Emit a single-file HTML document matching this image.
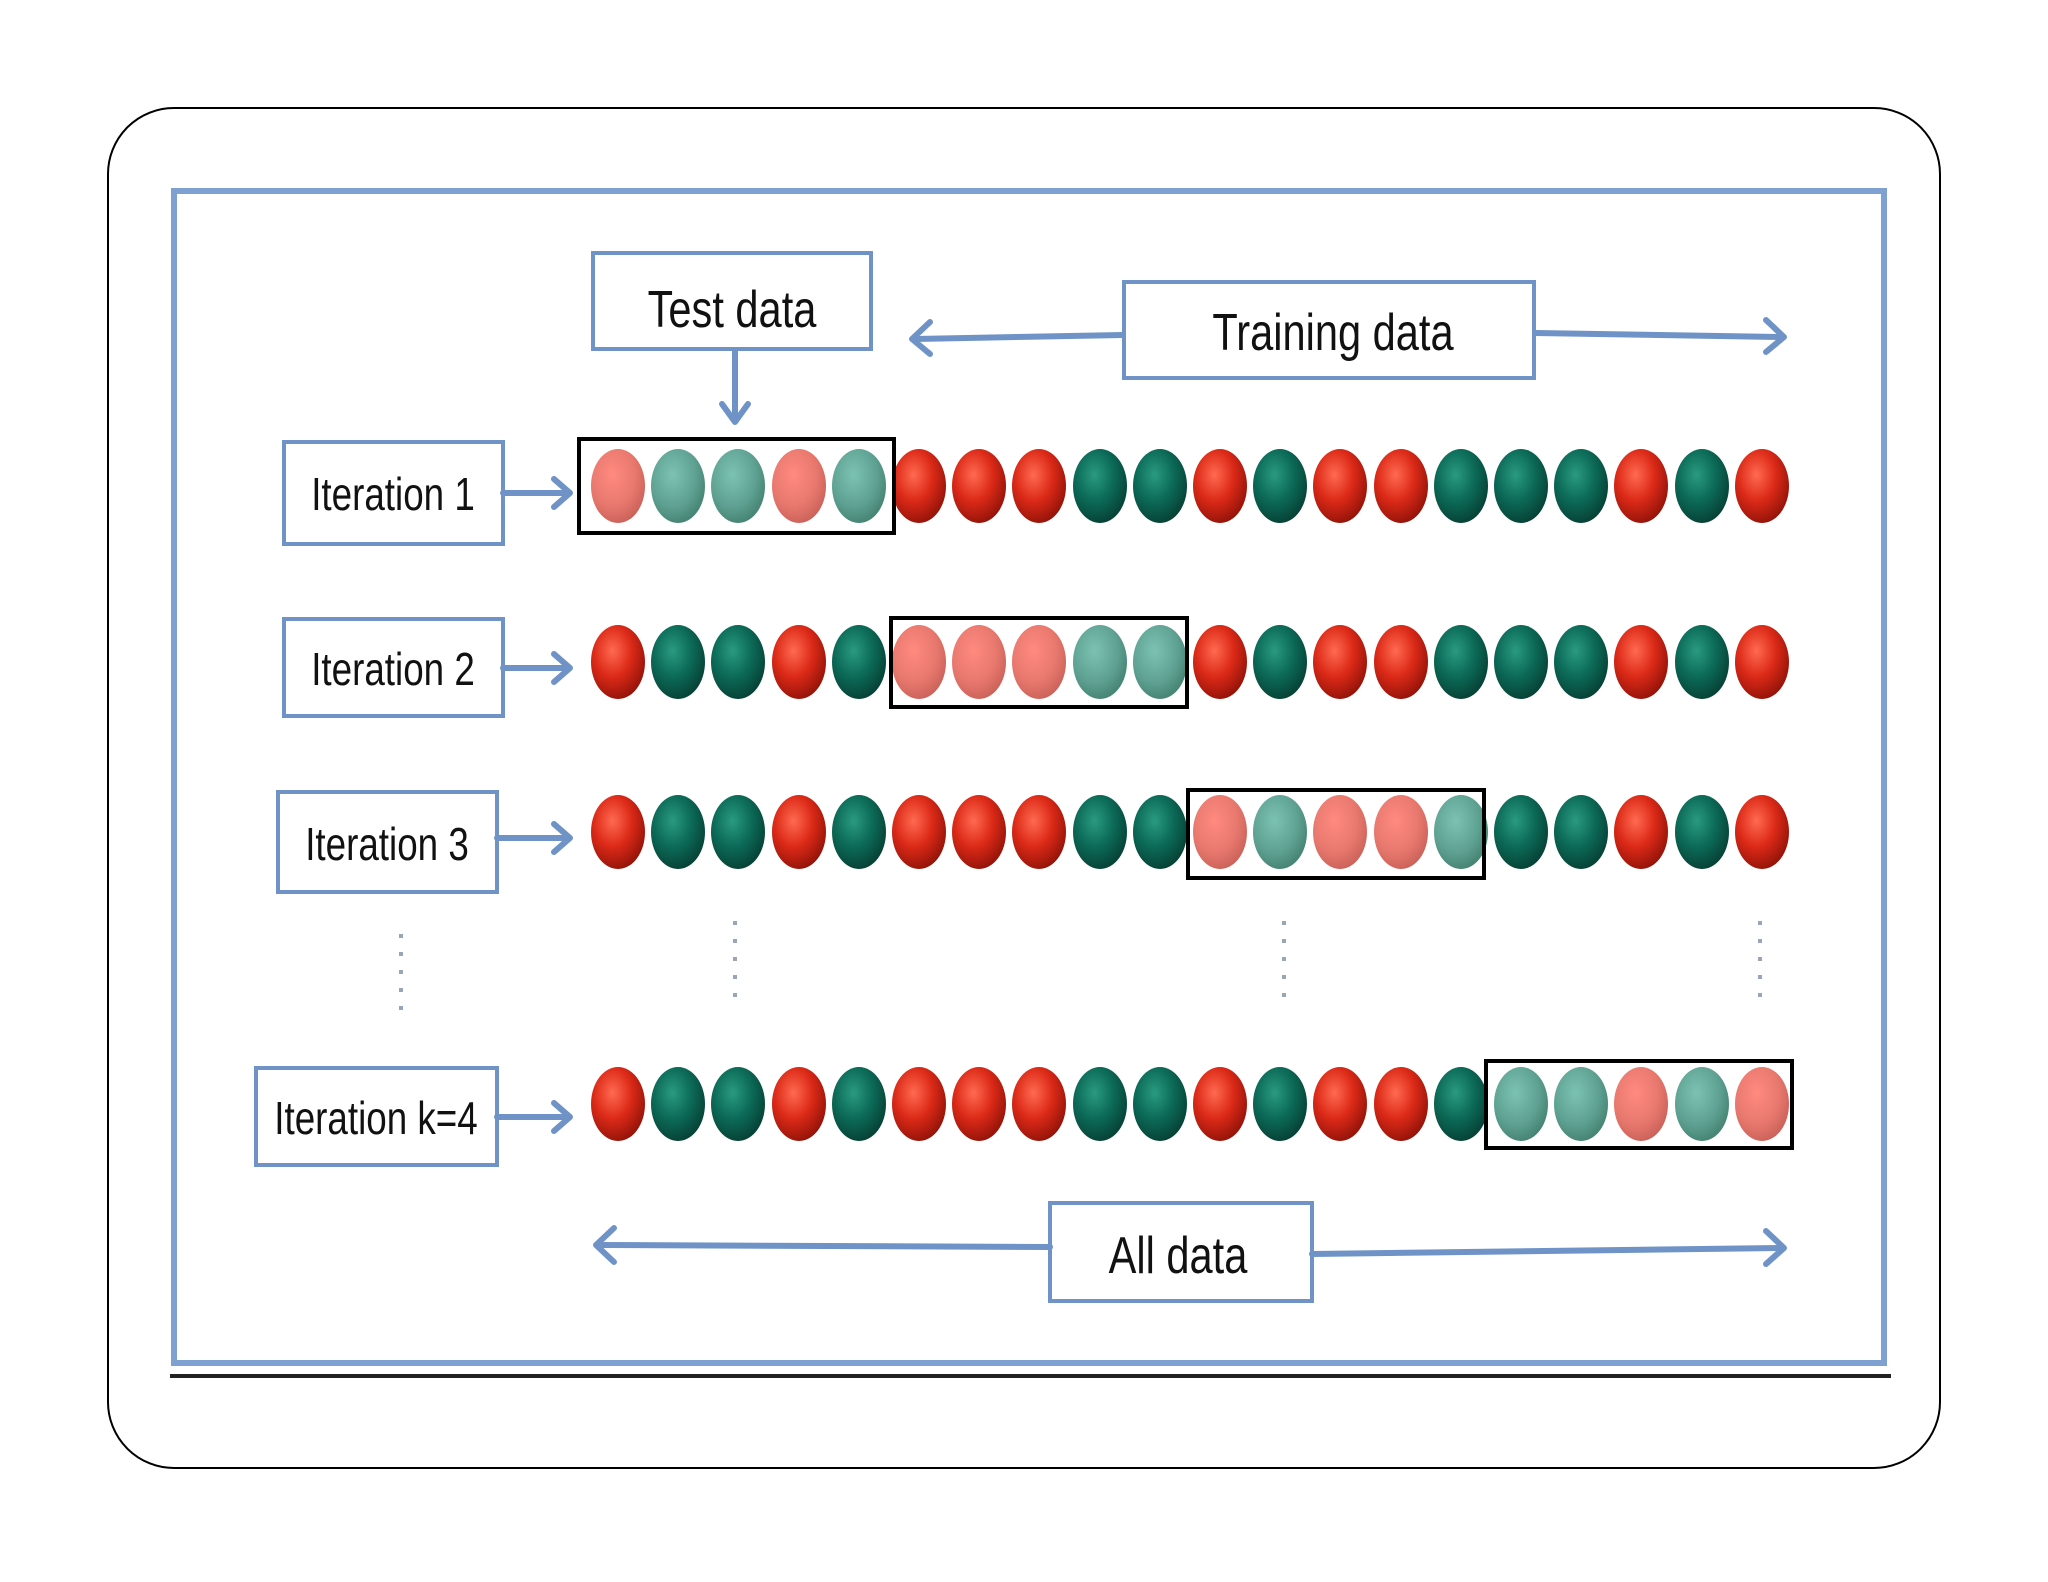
<!DOCTYPE html>
<html><head><meta charset="utf-8"><style>
html,body{margin:0;padding:0;background:#fff;}
svg{display:block;}
text{font-family:"Liberation Sans",sans-serif;fill:#111;}
</style></head><body>
<svg width="2048" height="1582" viewBox="0 0 2048 1582" xmlns="http://www.w3.org/2000/svg">
<defs>
<radialGradient id="gr" cx="0.4" cy="0.35" r="0.7"><stop offset="0" stop-color="#ff6a50"/><stop offset="0.5" stop-color="#dc2a18"/><stop offset="1" stop-color="#8e1208"/></radialGradient>
<radialGradient id="gg" cx="0.4" cy="0.35" r="0.7"><stop offset="0" stop-color="#2a9a80"/><stop offset="0.5" stop-color="#0c6b58"/><stop offset="1" stop-color="#063e33"/></radialGradient>
<radialGradient id="gp" cx="0.4" cy="0.35" r="0.7"><stop offset="0" stop-color="#ff8a80"/><stop offset="0.6" stop-color="#e8786e"/><stop offset="1" stop-color="#c86058"/></radialGradient>
<radialGradient id="gt" cx="0.4" cy="0.35" r="0.7"><stop offset="0" stop-color="#7cc2b2"/><stop offset="0.6" stop-color="#5fa293"/><stop offset="1" stop-color="#43806f"/></radialGradient>
<ellipse id="R" cx="0" cy="0" rx="27" ry="37" fill="url(#gr)"/>
<ellipse id="G" cx="0" cy="0" rx="27" ry="37" fill="url(#gg)"/>
<ellipse id="P" cx="0" cy="0" rx="27" ry="37" fill="url(#gp)"/>
<ellipse id="T" cx="0" cy="0" rx="27" ry="37" fill="url(#gt)"/>
<marker id="ah" markerWidth="8" markerHeight="10" refX="6" refY="5" orient="auto" markerUnits="userSpaceOnUse"><path d="M0,0 L7,5 L0,10" fill="none" stroke="#6f93c6" stroke-width="1"/></marker>
</defs>
<rect x="108" y="108" width="1832" height="1360" rx="66" fill="#fff" stroke="#000" stroke-width="2"/>
<rect x="174" y="191" width="1710" height="1172" fill="#fff" stroke="#7ea1d2" stroke-width="6"/>
<line x1="170" y1="1376" x2="1891" y2="1376" stroke="#222" stroke-width="4"/>

<g fill="#fff" stroke="#6f93c6" stroke-width="4">
<rect x="593" y="253" width="278" height="96"/>
<rect x="1124" y="282" width="410" height="96"/>
<rect x="1050" y="1203" width="262" height="98"/>
<rect x="284" y="442" width="219" height="102"/>
<rect x="284" y="619" width="219" height="97"/>
<rect x="278" y="792" width="219" height="100"/>
<rect x="256" y="1068" width="241" height="97"/>
</g>
<g stroke="#6f93c6" stroke-width="6" fill="none" stroke-linecap="round" stroke-linejoin="round">
<line x1="1123" y1="335" x2="915" y2="339"/><path d="M930,322 L912,339 L930,354"/>
<line x1="1535" y1="333" x2="1782" y2="337"/><path d="M1766,320 L1784,337 L1766,352"/>
<line x1="1050" y1="1247" x2="598" y2="1245"/><path d="M614,1228 L596,1245 L614,1262"/>
<line x1="1312" y1="1254" x2="1782" y2="1248"/><path d="M1766,1231 L1784,1248 L1766,1264"/>
<line x1="735" y1="350" x2="735" y2="420"/><path d="M722,404 L735,422 L748,404"/>
<line x1="503" y1="493" x2="568" y2="493"/><path d="M554,479 L570,493 L554,507"/>
<line x1="503" y1="668" x2="568" y2="668"/><path d="M554,654 L570,668 L554,682"/>
<line x1="497" y1="838" x2="568" y2="838"/><path d="M554,824 L570,838 L554,852"/>
<line x1="497" y1="1117" x2="568" y2="1117"/><path d="M554,1103 L570,1117 L554,1131"/>
</g>
<g stroke="#9aa6b8" stroke-width="4" stroke-dasharray="4 14">
<line x1="401" y1="934" x2="401" y2="1012"/>
<line x1="735" y1="921" x2="735" y2="1006"/>
<line x1="1284" y1="921" x2="1284" y2="1006"/>
<line x1="1760" y1="921" x2="1760" y2="1006"/>
</g>

<g font-size="52">
<text x="732" y="327" text-anchor="middle" transform="translate(732,0) scale(0.8,1) translate(-732,0)">Test data</text>
<text x="1333" y="350" text-anchor="middle" transform="translate(1333,0) scale(0.8,1) translate(-1333,0)">Training data</text>
<text x="1178" y="1273" text-anchor="middle" transform="translate(1178,0) scale(0.8,1) translate(-1178,0)">All data</text>
</g>
<g font-size="46">
<text x="393" y="510" text-anchor="middle" transform="translate(393,0) scale(0.8,1) translate(-393,0)">Iteration 1</text>
<text x="393" y="685" text-anchor="middle" transform="translate(393,0) scale(0.8,1) translate(-393,0)">Iteration 2</text>
<text x="387" y="860" text-anchor="middle" transform="translate(387,0) scale(0.8,1) translate(-387,0)">Iteration 3</text>
<text x="376" y="1134" text-anchor="middle" transform="translate(376,0) scale(0.8,1) translate(-376,0)">Iteration k=4</text>
</g>

<!-- Row 1 -->
<g transform="translate(0,486)">
<use href="#P" x="618"/><use href="#T" x="678"/><use href="#T" x="738"/><use href="#P" x="799"/><use href="#T" x="859"/>
<use href="#R" x="919"/><use href="#R" x="979"/><use href="#R" x="1039"/><use href="#G" x="1100"/><use href="#G" x="1160"/>
<use href="#R" x="1220"/><use href="#G" x="1280"/><use href="#R" x="1340"/><use href="#R" x="1401"/><use href="#G" x="1461"/>
<use href="#G" x="1521"/><use href="#G" x="1581"/><use href="#R" x="1641"/><use href="#G" x="1702"/><use href="#R" x="1762"/>
</g>
<!-- Row 2 -->
<g transform="translate(0,662)">
<use href="#R" x="618"/><use href="#G" x="678"/><use href="#G" x="738"/><use href="#R" x="799"/><use href="#G" x="859"/>
<use href="#P" x="919"/><use href="#P" x="979"/><use href="#P" x="1039"/><use href="#T" x="1100"/><use href="#T" x="1160"/>
<use href="#R" x="1220"/><use href="#G" x="1280"/><use href="#R" x="1340"/><use href="#R" x="1401"/><use href="#G" x="1461"/>
<use href="#G" x="1521"/><use href="#G" x="1581"/><use href="#R" x="1641"/><use href="#G" x="1702"/><use href="#R" x="1762"/>
</g>
<!-- Row 3 -->
<g transform="translate(0,832)">
<use href="#R" x="618"/><use href="#G" x="678"/><use href="#G" x="738"/><use href="#R" x="799"/><use href="#G" x="859"/>
<use href="#R" x="919"/><use href="#R" x="979"/><use href="#R" x="1039"/><use href="#G" x="1100"/><use href="#G" x="1160"/>
<use href="#P" x="1220"/><use href="#T" x="1280"/><use href="#P" x="1340"/><use href="#P" x="1401"/><use href="#T" x="1461"/>
<use href="#G" x="1521"/><use href="#G" x="1581"/><use href="#R" x="1641"/><use href="#G" x="1702"/><use href="#R" x="1762"/>
</g>
<!-- Row 4 -->
<g transform="translate(0,1104)">
<use href="#R" x="618"/><use href="#G" x="678"/><use href="#G" x="738"/><use href="#R" x="799"/><use href="#G" x="859"/>
<use href="#R" x="919"/><use href="#R" x="979"/><use href="#R" x="1039"/><use href="#G" x="1100"/><use href="#G" x="1160"/>
<use href="#R" x="1220"/><use href="#G" x="1280"/><use href="#R" x="1340"/><use href="#R" x="1401"/><use href="#G" x="1461"/>
<use href="#T" x="1521"/><use href="#T" x="1581"/><use href="#P" x="1641"/><use href="#T" x="1702"/><use href="#P" x="1762"/>
</g>

<g fill="none" stroke="#000" stroke-width="4">
<rect x="579" y="439" width="315" height="94"/>
<rect x="891" y="618" width="296" height="89"/>
<rect x="1188" y="790" width="296" height="88"/>
<rect x="1486" y="1061" width="306" height="87"/>
</g>
</svg>
</body></html>
